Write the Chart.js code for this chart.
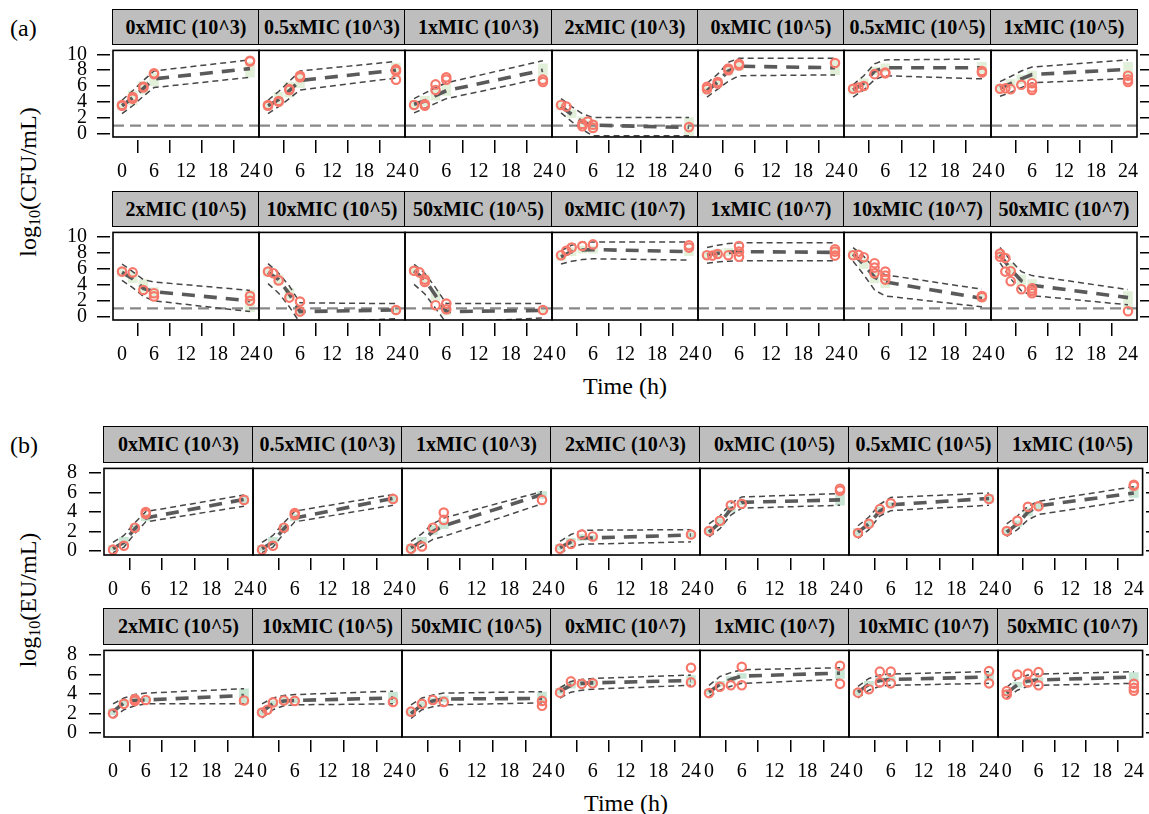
<!DOCTYPE html>
<html><head><meta charset="utf-8">
<script src="https://cdn.jsdelivr.net/npm/chart.js@4.4.1/dist/chart.umd.min.js"></script>
<style>
html,body{margin:0;padding:0;background:#fff;}
body{width:1149px;height:814px;position:relative;overflow:hidden;font-family:"Liberation Serif","Times New Roman",serif;color:#000;}
.strip{position:absolute;box-sizing:border-box;background:#bebebe;border:1.5px solid #000;font-weight:bold;font-size:20px;display:flex;align-items:center;justify-content:center;white-space:nowrap;}
canvas{position:absolute;}
.lbl{position:absolute;white-space:nowrap;font-size:24px;}
.lbl sub{font-size:16px;vertical-align:-4px;}
</style></head><body>
<script>
// ---------------- data ----------------
const panelLabels = ["0xMIC (10^3)","0.5xMIC (10^3)","1xMIC (10^3)","2xMIC (10^3)","0xMIC (10^5)","0.5xMIC (10^5)","1xMIC (10^5)",
  "2xMIC (10^5)","10xMIC (10^5)","50xMIC (10^5)","0xMIC (10^7)","1xMIC (10^7)","10xMIC (10^7)","50xMIC (10^7)"];
const binTimes = [0, 2, 4, 6, 24];
const xTicks = [0, 6, 12, 18, 24];
const cfuTicks = [0, 2, 4, 6, 8, 10];
const euTicks = [0, 2, 4, 6, 8];
const cfuLLOQ = 1;

// (a) log10(CFU/mL): simulated median, 5th and 95th percentiles, CI of median, observations
const cfuMedian = [
  [3.5,4.5,5.7,6.9,8.2],[3.5,4.3,5.4,6.7,8.0],[3.7,4.1,4.8,5.4,8.0],[3.4,2.4,1.45,1.05,0.75],
  [5.4,6.5,7.9,8.5,8.3],[5.5,6.35,7.9,8.3,8.3],[5.75,6.3,6.9,7.45,8.1],
  [5.5,4.7,3.5,3.1,1.95],[5.5,4.6,2.8,0.6,0.8],[5.7,4.6,2.6,0.6,0.75],[7.45,8.1,8.3,8.35,8.1],
  [7.7,7.9,8.0,8.1,8.0],[7.8,6.5,4.9,4.3,2.25],[7.7,5.9,4.45,3.9,2.35]];
const cfuP05 = [
  [2.5,3.5,4.7,5.8,7.1],[2.5,3.4,4.4,5.5,7.0],[2.6,3.2,3.8,4.4,7.0],[2.6,1.5,0.5,-0.3,-0.3],
  [4.6,5.6,6.6,7.3,7.4],[4.6,5.5,6.8,7.3,6.9],[4.7,5.2,5.8,6.4,6.95],
  [4.5,3.6,2.5,1.95,0.6],[4.1,2.9,1.2,-0.8,-0.3],[4.0,2.8,1.0,-0.8,-0.2],[6.55,6.9,7.1,7.2,7.05],
  [6.65,6.8,6.9,6.95,6.95],[6.9,5.2,3.3,2.55,1.2],[6.7,4.7,3.2,2.6,1.45]];
const cfuP95 = [
  [4.2,5.4,6.7,7.9,9.3],[4.2,5.3,6.6,7.9,9.1],[4.4,5.1,5.8,6.4,9.2],[4.4,3.4,2.5,2.0,2.0],
  [6.35,7.5,9.0,9.5,9.5],[6.15,7.3,8.8,9.3,9.4],[6.55,7.2,7.9,8.4,9.3],
  [6.55,5.6,4.6,4.3,3.25],[6.6,5.4,3.8,1.7,1.6],[6.5,5.4,3.6,1.6,1.6],[8.2,8.9,9.3,9.3,9.3],
  [8.6,8.9,9.1,9.2,9.2],[8.6,7.5,6.0,5.2,3.4],[8.6,7.0,5.6,5.1,3.35]];
const cfuCiLo = [
  [3.0,3.6,5.0,6.0,7.1],[3.0,3.6,4.6,5.8,7.1],[3.2,3.5,4.2,4.8,6.9],[3.0,2.0,0.9,0.3,-0.3],
  [5.0,6.0,7.4,8.0,7.4],[5.0,5.9,7.4,7.8,7.6],[5.3,5.8,6.3,6.9,7.3],
  [5.0,4.2,3.0,2.6,0.6],[5.0,4.0,2.2,0.2,0.4],[5.2,4.0,2.0,0.2,0.4],[7.0,7.6,7.9,7.9,7.6],
  [7.3,7.4,7.6,7.7,7.5],[7.3,6.0,4.2,3.6,1.9],[7.2,5.3,3.8,3.2,1.0]];
const cfuCiHi = [
  [4.0,5.4,6.6,7.6,9.0],[4.0,5.2,6.5,7.5,8.9],[4.2,4.7,5.6,6.3,8.8],[3.9,3.0,2.1,1.7,2.0],
  [5.9,7.0,8.4,8.9,9.2],[6.0,6.9,8.4,8.8,9.0],[6.2,6.8,7.4,7.9,9.0],
  [6.0,5.5,4.6,3.6,3.3],[6.0,5.2,3.5,1.2,1.3],[6.2,5.2,3.2,1.2,1.2],[7.9,8.6,8.8,8.8,8.6],
  [8.1,8.4,8.5,8.6,8.6],[8.3,7.2,5.6,4.8,2.9],[8.2,6.6,5.2,4.6,3.1]];
const cfuObs = [
  [[0,3.5],[0,3.6],[2,4.4],[2,4.6],[4,5.8],[4,5.9],[6,7.5],[6,7.6],[24,9.1],[24,9.2]],
  [[0,3.5],[0,3.6],[2,4.0],[2,4.1],[4,5.5],[4,5.6],[6,7.1],[6,7.3],[24,8.1],[24,7.9],[24,6.8]],
  [[0,3.6],[2,3.5],[2,3.7],[4,6.2],[4,5.5],[6,7.1],[6,6.8],[24,6.5],[24,6.8]],
  [[0,3.6],[1,3.4],[4,0.9],[4,1.2],[5,1.5],[6,1.1],[6,0.7],[24,0.8]],
  [[0,5.6],[0,5.9],[2,6.3],[2,6.5],[4,8.0],[4,8.2],[6,8.6],[6,8.8],[24,8.9]],
  [[0,5.65],[1,5.8],[2,6.0],[4,7.5],[6,7.6],[6,7.7],[24,7.9],[24,7.7]],
  [[0,5.65],[1,5.7],[2,5.6],[4,6.15],[6,6.35],[6,5.5],[6,5.8],[24,7.3],[24,6.8],[24,6.5]],
  [[0,5.6],[2,5.5],[4,3.3],[6,2.5],[6,2.9],[24,2.55],[24,1.95]],
  [[0,5.6],[1,5.4],[2,4.5],[4,2.35],[6,1.85],[6,0.6],[24,0.8]],
  [[0,5.7],[1,5.5],[2,4.6],[2,4.3],[4,1.4],[6,1.6],[6,0.9],[24,0.8]],
  [[0,7.65],[1,8.2],[2,8.6],[4,8.8],[6,9.0],[24,8.9],[24,8.6]],
  [[0,7.65],[1,7.6],[2,7.8],[4,7.65],[6,8.8],[6,8.1],[6,7.45],[24,8.1],[24,7.6],[24,8.4]],
  [[0,7.65],[1,7.7],[2,7.4],[4,6.65],[4,6.1],[4,5.4],[6,5.6],[6,5.1],[6,4.6],[24,2.55],[24,2.4]],
  [[0,7.85],[0,7.45],[1,7.3],[1,5.6],[2,5.65],[2,4.4],[4,3.4],[6,3.5],[6,2.9],[6,3.2],[24,0.65]]];

// (b) log10(EU/mL)
const euMedian = [
  [0.25,0.9,2.3,3.4,5.3],[0.25,0.9,2.3,3.4,5.4],[0.35,1.0,2.0,2.6,5.8],[0.35,0.95,1.35,1.35,1.65],
  [1.95,2.9,4.3,5.0,5.25],[1.95,2.8,4.1,4.75,5.4],[1.95,2.8,4.0,4.65,5.95],
  [2.2,3.1,3.35,3.4,3.85],[2.2,3.0,3.3,3.35,3.6],[2.0,2.9,3.3,3.5,3.55],[4.3,4.9,5.1,5.15,5.4],
  [4.2,5.0,5.5,5.85,6.15],[4.2,5.0,5.4,5.5,5.75],[4.1,4.95,5.35,5.45,5.75]];
const euP05 = [
  [-0.15,0.4,1.8,3.0,4.6],[-0.15,0.4,1.8,3.0,4.7],[-0.2,0.5,1.2,1.5,4.85],[-0.2,0.4,0.7,0.73,0.95],
  [1.45,2.3,3.7,4.4,4.7],[1.3,2.2,3.6,4.15,4.7],[1.5,2.2,3.2,3.75,5.25],
  [1.55,2.4,2.8,3.0,3.0],[1.55,2.4,2.8,2.9,3.0],[1.5,2.4,2.7,2.9,3.1],[3.6,4.2,4.4,4.5,4.9],
  [3.75,4.4,4.8,5.1,5.5],[3.6,4.4,4.8,4.9,5.1],[3.6,4.4,4.8,4.9,5.1]];
const euP95 = [
  [0.9,1.6,2.9,4.05,5.75],[0.9,1.6,2.9,4.1,5.8],[1.0,1.8,2.8,3.4,6.1],[1.0,1.7,2.15,2.15,2.2],
  [2.8,3.6,4.9,5.55,5.9],[2.6,3.5,4.8,5.5,5.95],[2.8,3.6,4.6,5.1,6.6],
  [3.0,3.6,3.95,4.1,4.55],[3.0,3.6,3.85,3.95,4.3],[2.9,3.6,3.9,4.1,4.25],[4.65,5.3,5.5,5.6,5.95],
  [4.9,5.8,6.2,6.5,6.7],[4.8,5.6,5.95,6.05,6.3],[4.7,5.6,5.95,6.05,6.3]];
const euCiLo = [
  [0.0,0.6,2.0,3.1,4.9],[0.0,0.6,2.0,3.1,5.0],[0.1,0.7,1.7,2.3,5.4],[0.1,0.6,1.1,1.1,1.4],
  [1.7,2.6,4.0,4.7,4.7],[1.6,2.5,3.8,4.5,5.0],[1.7,2.5,3.6,4.3,5.5],
  [1.9,2.8,3.1,3.2,3.0],[1.9,2.7,3.0,3.1,3.1],[1.8,2.6,3.0,3.2,3.1],[4.0,4.6,4.9,4.9,5.1],
  [4.0,4.8,5.3,5.6,5.6],[3.9,4.8,5.2,5.3,5.4],[3.8,4.7,5.1,5.2,5.3]];
const euCiHi = [
  [0.6,1.4,2.7,3.8,5.7],[0.6,1.4,2.7,3.8,5.7],[0.7,1.4,2.6,3.0,6.1],[0.7,1.3,1.7,1.6,1.9],
  [2.3,3.3,4.6,5.2,5.85],[2.3,3.1,4.5,5.0,5.8],[2.3,3.1,4.4,4.9,6.6],
  [2.5,3.4,3.6,3.7,4.55],[2.5,3.3,3.6,3.6,4.2],[2.4,3.2,3.6,3.8,4.2],[4.6,5.2,5.3,5.4,5.9],
  [4.5,5.3,5.8,6.1,6.6],[4.5,5.3,5.7,5.8,6.2],[4.4,5.2,5.6,5.7,6.2]];
const euObs = [
  [[0,0.15],[2,0.55],[4,2.4],[6,3.8],[6,4.0],[24,5.25]],
  [[0,0.15],[2,0.55],[4,2.4],[6,3.9],[6,3.7],[24,5.35]],
  [[0,0.25],[2,0.48],[4,2.4],[6,3.95],[6,3.2],[24,5.25]],
  [[0,0.25],[2,0.73],[4,1.7],[6,1.5],[24,1.7]],
  [[0,2.05],[2,3.1],[4,4.7],[6,4.85],[24,6.4],[24,6.2]],
  [[0,1.85],[2,2.8],[4,4.3],[6,4.9],[24,5.35]],
  [[0,2.05],[2,3.1],[4,4.55],[6,4.6],[24,6.7],[24,6.8]],
  [[0,2.0],[2,3.0],[4,3.5],[4,3.3],[6,3.4],[24,3.35]],
  [[0,2.1],[1,2.4],[2,3.15],[4,3.35],[6,3.3],[24,3.2]],
  [[0,2.2],[2,3.0],[4,3.4],[6,3.2],[24,3.3],[24,2.8]],
  [[0,4.15],[2,5.3],[4,5.05],[6,5.1],[24,6.7],[24,5.2]],
  [[0,4.1],[2,4.75],[4,4.9],[6,6.8],[6,4.9],[24,6.9],[24,5.05]],
  [[0,4.15],[2,4.5],[4,5.2],[4,6.3],[6,6.3],[6,5.1],[24,6.35],[24,5.1]],
  [[0,4.3],[0,3.95],[2,6.0],[4,6.1],[4,5.2],[6,6.25],[6,4.9],[24,5.05],[24,4.65],[24,4.35]]];

// ---------------- layout / style ----------------
const FONT = "'Liberation Serif','Times New Roman',serif";
Chart.defaults.font.family = FONT;
const EX = 12, BM = 45;
const OBS_COLOR = '#f7786b';
const sections = [
  {edges:[113,259,405,552,698,844,991,1137], rows:[[10,44,137],[192,226,320]], xr:[-1.69,25.69], yr:[-0.45,10.5],
   yTicks:cfuTicks, lm:53, rm:12, tl:16, gap:3, ypad:10, xpad:7, fill:'#e2efd9',
   med:cfuMedian, lo:cfuP05, hi:cfuP95, ciLo:cfuCiLo, ciHi:cfuCiHi, obs:cfuObs, lloq:cfuLLOQ},
  {edges:[104,253,402,551,700,849,998,1147], rows:[[427,462,555],[609,644,737]], xr:[-1.65,25.65], yr:[-0.4,8.48],
   yTicks:euTicks, lm:44, rm:2, tl:15, gap:3, ypad:12, xpad:8, fill:'#c9e5d4',
   med:euMedian, lo:euP05, hi:euP95, ciLo:euCiLo, ciHi:euCiHi, obs:euObs, lloq:null}
];

const boxPlugin = {id:'panelBox', afterDraw(chart){
  const {ctx, chartArea:a} = chart;
  ctx.save(); ctx.strokeStyle = '#000'; ctx.lineWidth = 1.6;
  ctx.strokeRect(a.left, a.top, a.right - a.left, a.bottom - a.top); ctx.restore();
}};

function addDiv(cls, css, html){
  const d = document.createElement('div'); d.className = cls; d.style.cssText = css; d.innerHTML = html;
  document.body.appendChild(d); return d;
}

sections.forEach(sec => {
  panelLabels.forEach((label, idx) => {
    const row = Math.floor(idx / 7), col = idx % 7;
    const L = sec.edges[col], R = sec.edges[col + 1];
    const [sTop, pTop, pBot] = sec.rows[row];
    addDiv('strip', `left:${L-0.75}px;top:${sTop-0.75}px;width:${R-L+1.5}px;height:${pTop-sTop+1.5}px;`, label);

    const padL = col === 0 ? sec.lm : EX, padR = col === 6 ? sec.rm : EX;
    const W = R - L + padL + padR, H = pBot - pTop + BM;
    const cv = document.createElement('canvas');
    cv.width = W; cv.height = H;
    cv.style.cssText = `left:${L-padL}px;top:${pTop}px;width:${W}px;height:${H}px;`;
    document.body.appendChild(cv);

    const tline = (arr) => binTimes.map((t, i) => ({x:t, y:arr[idx][i]}));
    const datasets = [
      {type:'scatter', data:sec.obs[idx].map(([t,y]) => ({x:t, y})), pointRadius:4.2, borderWidth:2.2,
       borderColor:OBS_COLOR, backgroundColor:'rgba(0,0,0,0)', pointStyle:'circle', showLine:false, order:0},
      {type:'line', data:tline(sec.med), borderColor:'#5a5a5a', borderWidth:3.6, borderDash:[13,9],
       pointRadius:0, fill:false, tension:0, order:1, clip:0},
      {type:'line', data:tline(sec.hi), borderColor:'#474747', borderWidth:1.5, borderDash:[6,4],
       pointRadius:0, fill:false, tension:0, order:2, clip:0},
      {type:'line', data:tline(sec.lo), borderColor:'#474747', borderWidth:1.5, borderDash:[6,4],
       pointRadius:0, fill:false, tension:0, order:2, clip:0},
      {type:'bar', data:binTimes.map((t, i) => ({x:t, y:[sec.ciLo[idx][i], sec.ciHi[idx][i]]})),
       backgroundColor:sec.fill, borderWidth:0, barThickness:9, grouped:false, order:4}
    ];
    if (sec.lloq !== null) {
      datasets.push({type:'line', data:[{x:sec.xr[0], y:sec.lloq},{x:sec.xr[1], y:sec.lloq}],
        borderColor:'#888888', borderWidth:2.2, borderDash:[11,6], pointRadius:0, fill:false, order:3, clip:0});
    }
    const len = sec.tl - sec.gap;
    const yShown = col === 0 || col === 6;
    new Chart(cv, {
      type:'scatter',
      data:{datasets},
      plugins:[boxPlugin],
      options:{
        responsive:false, animation:false, devicePixelRatio:1, events:[],
        layout:{padding:{left:col === 0 ? 0 : EX, right:col === 6 ? 0 : EX, top:0, bottom:0}},
        plugins:{legend:{display:false}, tooltip:{enabled:false}},
        scales:{
          x:{type:'linear', position:'bottom', min:sec.xr[0], max:sec.xr[1], offset:false,
             afterBuildTicks:s => { s.ticks = xTicks.map(v => ({value:v})); },
             afterFit:s => { s.height = BM; s.paddingLeft = 0; s.paddingRight = 0; },
             border:{display:false},
             grid:{drawOnChartArea:false, drawTicks:true, tickLength:sec.tl, color:'#000', lineWidth:1.5,
                   tickBorderDash:[len, sec.gap], tickBorderDashOffset:len},
             ticks:{color:'#000', font:{family:FONT, size:20}, padding:sec.xpad, maxRotation:0, autoSkip:false}},
          y:{type:'linear', position:col === 6 ? 'right' : 'left', display:yShown, min:sec.yr[0], max:sec.yr[1],
             afterBuildTicks:s => { s.ticks = sec.yTicks.map(v => ({value:v})); },
             afterFit:s => { if (yShown) s.width = col === 0 ? sec.lm : sec.rm; s.paddingTop = 0; s.paddingBottom = 0; },
             border:{display:false},
             grid:{drawOnChartArea:false, drawTicks:true, tickLength:col === 0 ? sec.tl : 12, color:'#000', lineWidth:1.5,
                   tickBorderDash:[col === 0 ? len : 9, sec.gap], tickBorderDashOffset:col === 0 ? 0 : 9},
             ticks:{display:col === 0, color:'#000', font:{family:FONT, size:20}, padding:sec.ypad, autoSkip:false}}
        }
      }
    });
  });
});

// text labels
addDiv('lbl', 'left:10px;top:28px;transform:translateY(-50%);', '(a)');
addDiv('lbl', 'left:10px;top:445px;transform:translateY(-50%);', '(b)');
addDiv('lbl', 'left:29px;top:182px;transform:translate(-50%,-50%) rotate(-90deg);', 'log<sub>10</sub>(CFU/mL)');
addDiv('lbl', 'left:29px;top:600px;transform:translate(-50%,-50%) rotate(-90deg);', 'log<sub>10</sub>(EU/mL)');
addDiv('lbl', 'left:625px;top:386px;transform:translate(-50%,-50%);', 'Time (h)');
addDiv('lbl', 'left:626px;top:803px;transform:translate(-50%,-50%);', 'Time (h)');
</script>
</body></html>
